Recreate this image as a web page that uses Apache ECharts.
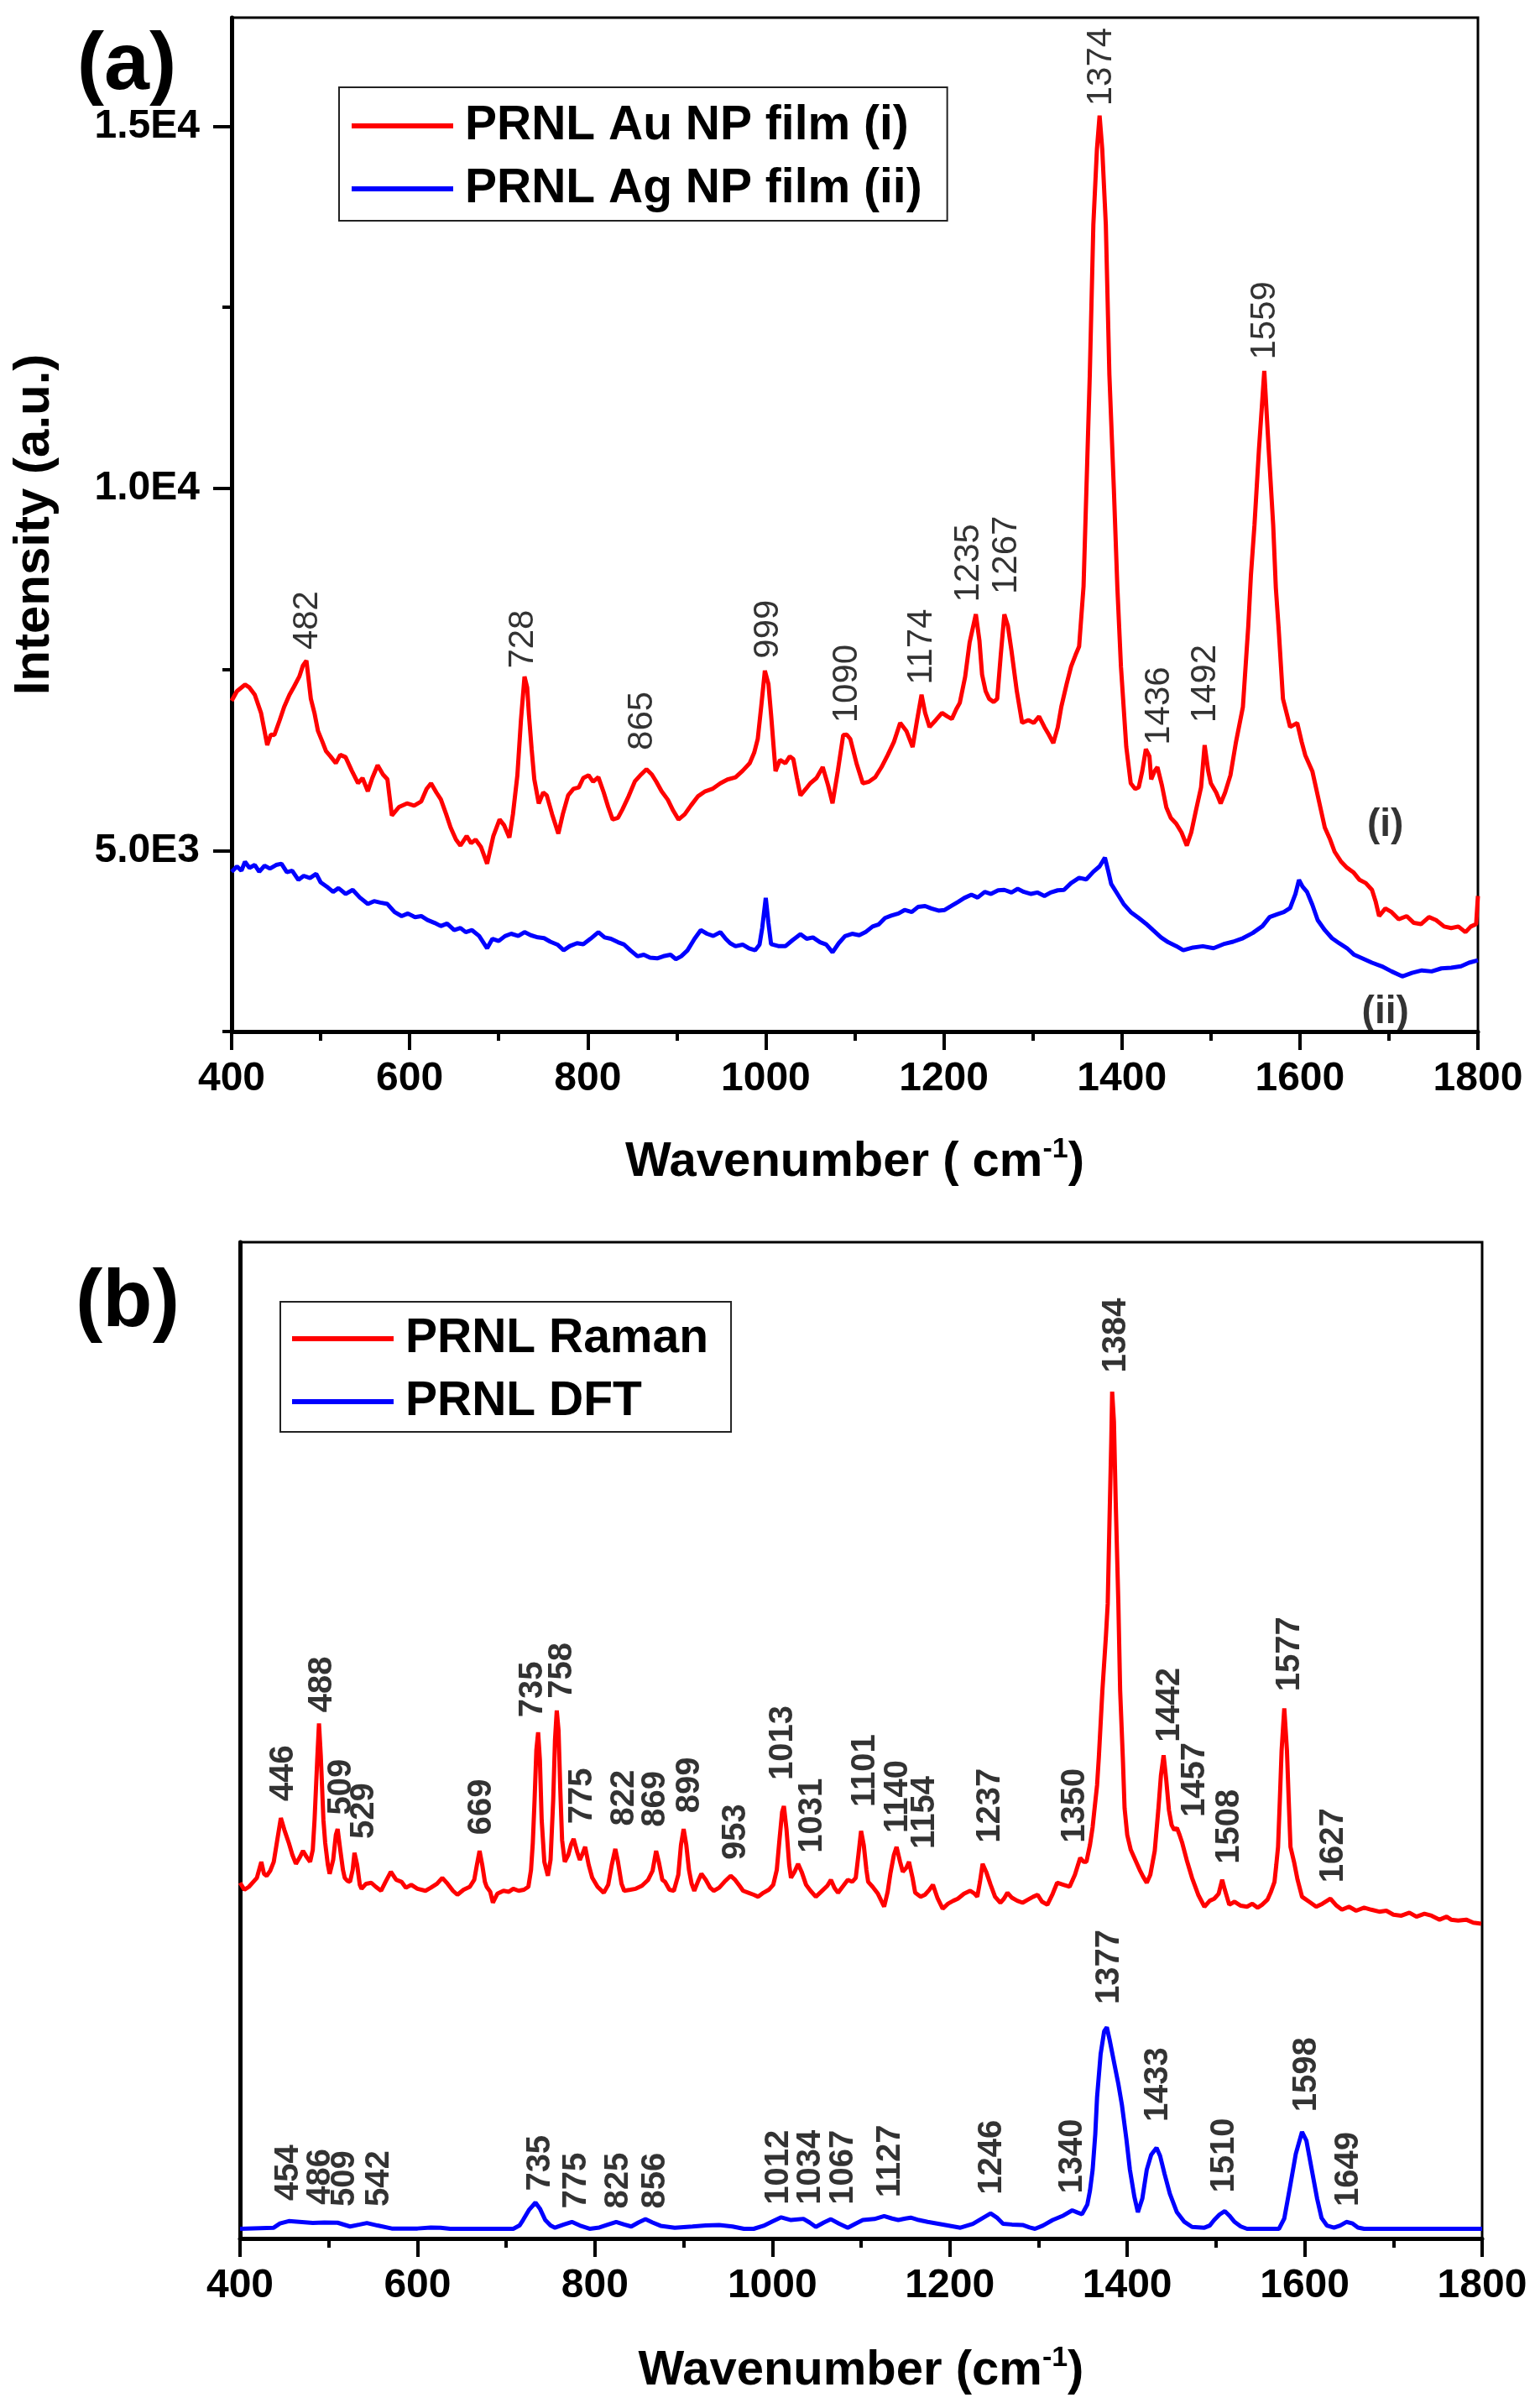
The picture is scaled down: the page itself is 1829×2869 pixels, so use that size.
<!DOCTYPE html>
<html>
<head>
<meta charset="utf-8">
<script src="https://cdn.jsdelivr.net/npm/echarts@6/dist/echarts.min.js"></script>
<style>
html,body{margin:0;padding:0;background:#fff;}
#chart{width:1829px;height:2869px;}
</style>
</head>
<body>
<div id="chart"></div>
<script>
// ---------- Panel (a) data ----------
const auX = [400,406,415,420,426,433,440,444,448,454,459,465,470,476,480,484,489,493,497,502,506,511,517,522,528,535,542,547,553,558,564,570,575,580,588,597,605,613,619,624,630,635,641,646,652,657,664,669,674,680,687,694,701,706,712,716,721,725,729,732,734,737,740,745,750,754,760,767,772,778,784,790,795,801,806,812,818,823,828,834,839,846,853,860,866,872,877,883,890,896,902,909,916,924,932,940,949,957,966,974,982,987,991,995,999,1003,1006,1011,1016,1022,1027,1031,1035,1039,1045,1050,1057,1064,1070,1075,1081,1087,1091,1095,1102,1109,1116,1123,1130,1137,1144,1151,1158,1165,1170,1175,1179,1184,1191,1198,1204,1209,1214,1218,1224,1229,1236,1240,1243,1247,1251,1256,1260,1264,1268,1272,1276,1282,1288,1295,1301,1307,1313,1318,1323,1328,1332,1338,1343,1348,1352,1357,1364,1368,1372,1375,1378,1382,1386,1391,1395,1399,1405,1410,1415,1419,1423,1427,1431,1433,1437,1440,1445,1450,1455,1461,1467,1473,1478,1483,1489,1493,1497,1500,1506,1511,1516,1522,1528,1536,1542,1545,1549,1554,1560,1565,1570,1573,1576,1581,1589,1597,1602,1606,1614,1622,1628,1634,1639,1646,1653,1660,1667,1674,1681,1685,1689,1696,1703,1711,1720,1728,1736,1745,1753,1762,1770,1778,1786,1792,1798,1800];
const auY = [7066,7200,7290,7250,7150,6900,6455,6600,6594,6800,6983,7150,7260,7400,7550,7622,7094,6900,6650,6500,6372,6300,6205,6320,6288,6100,5928,6000,5817,6000,6177,6050,5983,5483,5600,5650,5620,5678,5850,5928,5800,5705,5500,5317,5150,5067,5200,5100,5150,5050,4817,5200,5428,5350,5178,5500,6039,6800,7400,7250,6872,6400,5983,5650,5800,5761,5500,5233,5500,5761,5850,5872,6000,6039,5950,6011,5800,5600,5428,5450,5567,5750,5955,6050,6122,6050,5950,5817,5700,5550,5428,5500,5622,5750,5817,5850,5928,5980,6011,6100,6205,6350,6539,7000,7483,7300,6872,6094,6250,6205,6300,6261,6000,5761,5850,5928,6000,6150,5900,5650,6100,6594,6600,6539,6200,5928,5950,6011,6150,6317,6500,6761,6650,6428,6800,7150,6900,6705,6800,6900,6850,6816,6950,7039,7400,7872,8261,7900,7428,7200,7094,7050,7094,7700,8261,8100,7761,7200,6761,6800,6761,6850,6705,6600,6483,6700,6983,7300,7539,7700,7817,8650,11569,13643,14680,15147,14680,13643,11569,10000,8624,7539,6428,5928,5850,5872,6100,6400,6300,5983,6100,6150,5900,5594,5450,5372,5250,5067,5250,5539,5872,6455,6100,5928,5800,5650,5800,6039,6483,6983,8094,8800,9495,10532,11621,10532,9495,8624,8094,7094,6705,6761,6500,6317,6094,5650,5317,5150,4983,4850,4761,4700,4594,4550,4456,4300,4094,4200,4150,4050,4094,4000,3983,4080,4039,3950,3928,3950,3872,3950,3983,4372];

const agX = [400,406,411,415,420,426,431,437,443,450,456,462,468,475,481,488,495,500,507,514,520,528,536,544,553,560,567,575,583,591,598,606,613,620,628,635,642,650,657,663,670,678,687,693,700,707,714,722,729,736,744,751,758,766,773,780,788,795,803,812,819,826,834,841,848,856,863,870,878,885,893,899,905,912,920,927,934,941,949,955,960,966,974,981,988,993,996,1000,1003,1006,1014,1022,1030,1039,1046,1053,1061,1068,1075,1082,1089,1097,1105,1112,1120,1127,1134,1141,1149,1156,1164,1171,1179,1186,1194,1201,1208,1216,1223,1231,1238,1246,1253,1261,1268,1276,1283,1290,1298,1305,1313,1320,1328,1335,1343,1352,1360,1368,1375,1381,1385,1388,1395,1402,1410,1419,1427,1435,1444,1452,1461,1469,1480,1491,1503,1514,1525,1536,1547,1558,1566,1575,1582,1589,1595,1599,1603,1608,1614,1620,1628,1636,1644,1653,1661,1670,1681,1692,1703,1715,1726,1737,1748,1759,1770,1781,1790,1800];
const agY = [4706,4780,4720,4844,4760,4800,4706,4790,4750,4800,4817,4700,4720,4594,4650,4620,4678,4560,4500,4428,4480,4400,4456,4350,4261,4300,4280,4261,4150,4094,4130,4080,4094,4040,4000,3956,3990,3900,3930,3872,3900,3820,3650,3780,3750,3817,3850,3820,3872,3830,3800,3789,3740,3700,3622,3680,3720,3706,3780,3872,3800,3780,3733,3700,3620,3539,3560,3520,3511,3540,3560,3500,3539,3620,3780,3900,3850,3820,3872,3780,3720,3678,3700,3650,3622,3700,3928,4344,4000,3706,3680,3678,3760,3844,3780,3800,3733,3700,3594,3720,3817,3850,3830,3872,3950,3980,4067,4100,4130,4178,4150,4220,4233,4200,4170,4178,4230,4290,4344,4390,4350,4428,4400,4450,4456,4420,4470,4428,4400,4420,4372,4420,4450,4456,4550,4622,4600,4706,4780,4900,4700,4539,4400,4261,4150,4067,3990,3900,3800,3733,3680,3622,3660,3678,3650,3706,3740,3789,3860,3956,4080,4122,4150,4206,4400,4594,4500,4428,4250,4039,3900,3789,3720,3650,3560,3511,3450,3400,3330,3261,3310,3344,3330,3372,3380,3400,3450,3483];

// peak labels (a)
const aLabelText = ['482','728','865','999','1090','1174','1235','1267','1374','1436','1492','1559'];
const aLabelX    = [485,728,861,1003,1091,1175,1228,1271,1377,1442,1494,1561];
const aLabelY    = [7772,7511,6383,7650,6761,7289,8427,8538,15280,6455,6761,11777];
// curve tags (a)
const aTagText = ['(i)','(ii)'];
const aTagX = [1696,1696];
const aTagY = [5348,2758];
const aYTicksMajor = [5000,10000,15000];
const aYTicksMinor = [2500,7500,12500];

// ---------- Panel (b) data ----------
const ramX = [400,405,410,415,419,424,427,430,434,438,442,446,450,455,459,463,467,471,475,479,482,484,487,489,491,494,496,499,501,505,508,510,513,516,518,521,524,527,529,532,535,537,542,548,553,559,564,570,576,582,587,593,600,609,615,622,628,634,640,645,652,659,664,667,670,673,676,678,682,685,690,697,703,708,714,720,725,728,730,732,734,736,738,740,743,747,750,753,755,757,759,761,763,766,770,773,776,780,783,786,789,793,797,803,810,815,819,823,826,830,833,840,846,853,860,865,869,872,876,879,884,889,894,897,900,903,906,909,912,916,920,925,930,934,940,946,953,958,963,967,973,979,984,990,996,1001,1005,1008,1011,1013,1016,1019,1021,1025,1029,1033,1038,1043,1049,1055,1062,1066,1070,1074,1080,1085,1090,1094,1097,1100,1103,1106,1108,1113,1119,1126,1130,1133,1137,1140,1144,1147,1151,1154,1158,1161,1167,1172,1177,1181,1186,1192,1198,1204,1209,1216,1223,1228,1231,1234,1237,1241,1246,1251,1257,1261,1265,1270,1276,1282,1288,1294,1299,1304,1310,1316,1321,1328,1335,1341,1347,1351,1354,1358,1361,1363,1366,1368,1372,1376,1378,1380,1382,1383,1385,1387,1390,1392,1395,1397,1400,1404,1408,1414,1418,1422,1426,1431,1435,1438,1441,1444,1447,1450,1453,1456,1459,1462,1467,1473,1480,1487,1493,1498,1503,1507,1510,1515,1521,1528,1535,1541,1547,1552,1558,1562,1566,1568,1570,1572,1574,1577,1580,1582,1584,1588,1592,1597,1605,1613,1620,1629,1636,1642,1650,1658,1667,1675,1684,1692,1700,1709,1718,1726,1735,1743,1752,1760,1765,1773,1782,1790,1799];
const ramY = [35.7,35.0,35.3,35.8,36.2,37.8,36.6,36.4,36.9,37.8,40.0,42.2,41.0,39.7,38.5,37.6,38.2,38.9,38.3,37.8,39.0,42.0,48.0,51.7,48.5,42.0,39.7,37.5,36.6,38.0,40.5,41.1,39.0,37.0,36.2,35.9,35.8,37.0,38.7,37.5,35.5,35.1,35.6,35.7,35.3,34.9,35.8,36.8,36.0,35.8,35.2,35.5,35.1,34.9,35.2,35.6,36.2,35.6,34.9,34.5,35.0,35.3,36.0,37.5,38.9,37.5,35.8,35.3,34.8,33.7,34.6,34.9,34.8,35.1,34.9,35.0,35.3,37.0,39.7,44.0,49.0,50.8,48.0,42.0,37.8,36.4,38.0,44.0,50.0,53.0,51.0,45.0,40.0,37.8,38.5,39.5,40.1,38.8,38.0,38.6,39.3,37.5,36.2,35.3,34.7,35.5,37.5,39.1,37.8,35.6,34.9,35.0,35.1,35.4,36.0,36.9,38.9,37.8,36.0,35.8,35.0,34.9,36.5,39.5,41.1,39.5,37.0,35.6,34.9,35.8,36.6,36.0,35.2,34.9,35.2,35.8,36.4,36.0,35.4,34.9,34.7,34.5,34.3,34.7,35.0,35.5,37.0,40.0,42.8,43.4,41.0,37.5,36.2,36.8,37.6,36.8,35.5,34.9,34.3,34.8,35.4,36.0,35.2,34.7,35.4,36.0,35.8,36.2,38.5,40.9,39.5,37.0,35.8,35.3,34.6,33.3,34.8,36.6,38.5,39.3,37.8,36.8,37.2,37.8,36.2,34.7,34.3,34.5,35.0,35.5,34.2,33.1,33.6,33.9,34.1,34.6,34.9,34.6,34.3,35.8,37.6,36.8,35.5,34.3,33.7,34.1,34.7,34.2,33.9,33.7,34.0,34.3,34.5,33.8,33.5,34.6,35.7,35.5,35.3,36.5,38.2,37.8,37.8,39.5,41.3,43.0,45.5,48.3,55.0,60.5,63.7,72.0,80.0,85.0,82.0,74.0,63.7,55.0,48.3,43.2,40.5,39.0,38.2,37.0,36.3,35.7,36.5,38.9,43.0,46.5,48.5,46.0,43.0,41.5,41.0,41.2,40.5,39.7,38.0,36.2,34.5,33.3,33.9,34.1,34.6,36.0,35.0,33.5,33.8,33.4,33.3,33.6,33.2,33.5,34.0,34.8,35.8,37.5,39.3,44.0,49.0,53.2,49.0,44.0,39.3,37.8,36.0,34.3,33.8,33.3,33.6,34.1,33.4,33.0,33.3,32.9,33.2,33.0,32.8,32.9,32.5,32.4,32.7,32.3,32.6,32.4,32.0,32.3,32.0,31.9,32.0,31.7,31.6];

const dftX = [400,438,445,455,470,482,495,510,524,535,543,555,571,600,615,626,637,708,715,719,726,733,738,744,750,755,765,774,783,794,805,815,824,833,841,849,857,865,874,890,910,925,940,955,968,979,990,1000,1010,1021,1035,1042,1049,1058,1066,1075,1085,1094,1102,1115,1126,1135,1142,1150,1156,1165,1175,1195,1212,1226,1238,1246,1253,1260,1270,1282,1290,1296,1305,1316,1328,1338,1344,1349,1355,1358,1361,1364,1366,1370,1374,1377,1380,1386,1390,1394,1399,1403,1408,1412,1417,1422,1427,1433,1437,1442,1448,1456,1464,1473,1487,1493,1498,1504,1510,1515,1521,1528,1535,1571,1577,1583,1590,1597,1602,1608,1614,1619,1625,1633,1640,1647,1654,1660,1667,1800];
const dftY = [0.97,1.08,1.5,1.74,1.65,1.55,1.6,1.58,1.2,1.4,1.55,1.3,1.0,1.0,1.1,1.08,0.97,0.97,1.3,1.85,2.9,3.6,3.0,1.85,1.3,1.08,1.4,1.66,1.3,0.97,1.1,1.4,1.66,1.4,1.2,1.6,1.93,1.6,1.27,1.08,1.2,1.3,1.35,1.2,0.97,0.97,1.27,1.7,2.12,1.85,1.97,1.6,1.16,1.6,1.93,1.5,1.08,1.5,1.85,1.95,2.24,2.0,1.85,2.0,2.09,1.85,1.66,1.35,1.08,1.47,2.1,2.51,2.1,1.47,1.4,1.35,1.1,0.97,1.3,1.85,2.3,2.82,2.6,2.43,3.4,4.8,6.9,10.5,14.2,18.5,20.8,21.2,20.0,17.3,15.5,13.4,10.0,6.9,4.2,2.63,4.0,6.9,8.4,9.1,8.3,6.5,4.5,2.63,1.7,1.16,1.08,1.3,1.85,2.4,2.74,2.3,1.66,1.2,0.97,0.97,2.0,4.94,8.5,10.7,9.8,6.9,4.0,2.05,1.3,1.08,1.3,1.66,1.5,1.1,0.97,0.97];

const ramLabelText = ['446','488','509','529','669','735','758','775','822','869','899','953','1013','1031','1101','1140','1154','1237','1350','1384','1442','1457','1508','1577','1627'];
const ramLabelX = [449,493,514,540,672,730,763,786,833,868,907,959,1012,1045,1105,1142,1172,1246,1341,1388,1448,1476,1515,1583,1633];
const ramLabelY = [43.9,52.8,42.5,40.1,40.5,52.3,54.2,41.6,41.4,41.3,42.7,38.0,46.0,38.7,43.3,40.7,39.1,39.7,39.7,86.9,49.8,42.3,37.6,54.9,35.7];

const dftLabelText = ['454','486','509','542','735','775','825','856','1012','1034','1067','1127','1246','1340','1377','1433','1510','1598','1649'];
const dftLabelX = [455,491,518,557,739,779,827,868,1007,1043,1080,1133,1248,1338,1380,1435,1510,1602,1650];
const dftLabelY = [3.8,3.4,3.2,3.2,4.75,3.0,3.0,3.0,3.4,3.4,3.4,4.1,4.4,4.5,23.5,11.7,4.6,12.7,3.2];

// ---------- build ----------
const FONT = '"Liberation Sans", Arial, Helvetica, sans-serif';
const zip = (xs, ys) => xs.map((x, i) => [x, ys[i]]);
const zipL = (xs, ys, ts) => xs.map((x, i) => [x, ys[i], ts[i]]);
const sci = v => {
  if (v % 5000 !== 0) return '';
  const e = Math.floor(Math.log10(v));
  return (v / Math.pow(10, e)).toFixed(1) + 'E' + e;
};

function xAxisCfg(gridIndex, nameText, nameGap) {
  return {
    gridIndex, type: 'value', min: 400, max: 1800, interval: 200,
    axisLine: { onZero: false, lineStyle: { color: '#000', width: 5 } },
    axisTick: { length: 22, lineStyle: { color: '#000', width: 4 } },
    minorTick: { show: true, splitNumber: 2, length: 11, lineStyle: { color: '#000', width: 4 } },
    splitLine: { show: false }, minorSplitLine: { show: false },
    axisLabel: { fontSize: 48, fontWeight: 'bold', color: '#000', margin: 33, fontFamily: FONT, formatter: v => String(v) },
    name: nameText, nameLocation: 'middle', nameGap,
    nameTextStyle: {
      fontSize: 58, fontWeight: 'bold', color: '#000', fontFamily: FONT,
      rich: { sup: { fontSize: 34, fontWeight: 'bold', color: '#000', fontFamily: FONT, verticalAlign: 'top', padding: [0, 0, 30, 0] } }
    }
  };
}

function labelSeries(xi, yi, data, size, weight) {
  return {
    type: 'scatter', xAxisIndex: xi, yAxisIndex: yi, data,
    symbolSize: 1, itemStyle: { color: 'rgba(0,0,0,0)' }, silent: true,
    label: {
      show: true, position: 'inside', rotate: 90, align: 'left', verticalAlign: 'middle',
      formatter: p => p.data[2], fontSize: size, fontWeight: weight, color: '#000', fontFamily: FONT
    },
    z: 5
  };
}

const legendBase = {
  orient: 'vertical', icon: 'rect', itemWidth: 121, itemHeight: 6, itemGap: 15,
  borderColor: '#222', borderWidth: 2, selectedMode: false, backgroundColor: '#fff',
  textStyle: { fontSize: 57, fontWeight: 'bold', color: '#000', fontFamily: FONT, lineHeight: 60, padding: [0, 0, 0, 9] }
};

const option = {
  animation: false,
  backgroundColor: '#fff',
  grid: [
    { left: 276, top: 21, width: 1485, height: 1208, show: true, borderColor: '#000', borderWidth: 3 },
    { left: 286, top: 1480, width: 1480, height: 1187, show: true, borderColor: '#000', borderWidth: 3 }
  ],
  legend: [
    Object.assign({}, legendBase, { data: ['PRNL Au NP film (i)', 'PRNL Ag NP film (ii)'], left: 404, top: 104, padding: [16, 30, 8, 15] }),
    Object.assign({}, legendBase, { data: ['PRNL Raman', 'PRNL DFT'], left: 334, top: 1551, padding: [14, 27, 6, 14] })
  ],
  xAxis: [
    xAxisCfg(0, 'Wavenumber ( cm{sup|-1})', 124),
    xAxisCfg(1, 'Wavenumber (cm{sup|-1})', 126)
  ],
  yAxis: [
    {
      gridIndex: 0, type: 'value', min: 2500, max: 16500, interval: 2500,
      axisLine: { show: true, lineStyle: { color: '#000', width: 5 } },
      axisTick: { show: true, customValues: aYTicksMajor, length: 22, lineStyle: { color: '#000', width: 4 } },
      axisLabel: { customValues: aYTicksMajor, formatter: sci, fontSize: 48, fontWeight: 'bold', color: '#000', margin: 38, fontFamily: FONT },
      splitLine: { show: false },
      name: 'Intensity (a.u.)', nameLocation: 'middle', nameGap: 205, nameRotate: 90,
      nameTextStyle: { fontSize: 60, fontWeight: 'bold', color: '#000', fontFamily: FONT }
    },
    {
      gridIndex: 0, type: 'value', min: 2500, max: 16500, interval: 2500, position: 'left',
      axisLine: { show: false },
      axisTick: { show: true, customValues: aYTicksMinor, length: 11, lineStyle: { color: '#000', width: 4 } },
      axisLabel: { show: false }, splitLine: { show: false }
    },
    {
      gridIndex: 1, type: 'value', min: 0, max: 100,
      axisLine: { show: true, lineStyle: { color: '#000', width: 5 } },
      axisTick: { show: false }, axisLabel: { show: false }, splitLine: { show: false }
    }
  ],
  graphic: [
    { type: 'text', x: 151, y: 79, style: { text: '(a)', align: 'center', verticalAlign: 'middle', fontSize: 97, fontWeight: 'bold', fill: '#000', fontFamily: FONT } },
    { type: 'text', x: 152, y: 1553, style: { text: '(b)', align: 'center', verticalAlign: 'middle', fontSize: 97, fontWeight: 'bold', fill: '#000', fontFamily: FONT } }
  ],
  series: [
    { name: 'PRNL Au NP film (i)', type: 'line', xAxisIndex: 0, yAxisIndex: 0, data: zip(auX, auY), showSymbol: false, color: '#ff0000', lineStyle: { width: 5 }, clip: true, z: 3 },
    { name: 'PRNL Ag NP film (ii)', type: 'line', xAxisIndex: 0, yAxisIndex: 0, data: zip(agX, agY), showSymbol: false, color: '#0000ff', lineStyle: { width: 5 }, clip: true, z: 3 },
    { name: 'PRNL Raman', type: 'line', xAxisIndex: 1, yAxisIndex: 2, data: zip(ramX, ramY), showSymbol: false, color: '#ff0000', lineStyle: { width: 5 }, clip: true, z: 3 },
    { name: 'PRNL DFT', type: 'line', xAxisIndex: 1, yAxisIndex: 2, data: zip(dftX, dftY), showSymbol: false, color: '#0000ff', lineStyle: { width: 5 }, clip: true, z: 3 },
    labelSeries(0, 0, zipL(aLabelX, aLabelY, aLabelText), 42, 'normal'),
    Object.assign(labelSeries(0, 0, zipL(aTagX, aTagY, aTagText), 46, 'bold'), {
      label: { show: true, position: 'inside', formatter: p => p.data[2], fontSize: 46, fontWeight: 'bold', color: '#000', fontFamily: FONT }
    }),
    labelSeries(1, 2, zipL(ramLabelX, ramLabelY, ramLabelText), 40, 'bold'),
    labelSeries(1, 2, zipL(dftLabelX, dftLabelY, dftLabelText), 40, 'bold')
  ]
};

const chart = echarts.init(document.getElementById('chart'), null, { renderer: 'canvas', width: 1829, height: 2869 });
chart.setOption(option);
</script>
</body>
</html>
